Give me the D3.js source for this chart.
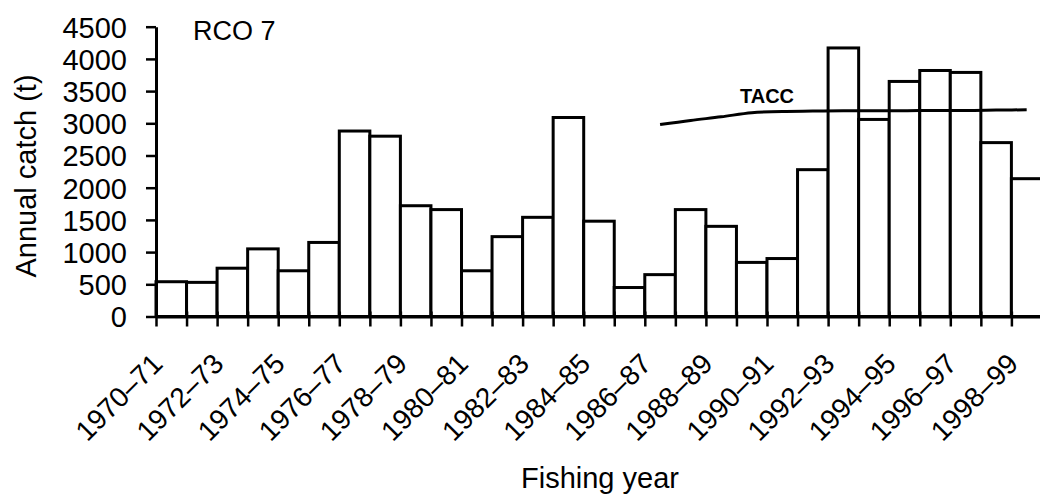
<!DOCTYPE html>
<html>
<head>
<meta charset="utf-8">
<script src="https://cdn.jsdelivr.net/npm/d3@7"></script>
<style>
  html, body { margin: 0; padding: 0; background: #fff; }
  svg { display: block; }
  text { font-family: "Liberation Sans", Arial, Helvetica, sans-serif; fill: #000; }
</style>
</head>
<body>
<svg id="chart" width="1040" height="499"></svg>
<script>
// ---- Data ----
const categories = ["1970–71","1971–72","1972–73","1973–74","1974–75","1975–76","1976–77","1977–78",
  "1978–79","1979–80","1980–81","1981–82","1982–83","1983–84","1984–85","1985–86","1986–87",
  "1987–88","1988–89","1989–90","1990–91","1991–92","1992–93","1993–94","1994–95","1995–96",
  "1996–97","1997–98","1998–99"];
const annualCatch = [540,530,750,1050,710,1150,2880,2800,1720,1660,710,1240,1540,3090,1480,450,
  650,1660,1400,840,900,2280,4170,3060,3650,3820,3790,2700,2140];
const taccYears = ["1986–87","1987–88","1988–89","1989–90","1990–91","1991–92","1992–93",
  "1993–94","1994–95","1995–96","1996–97","1997–98","1998–99"];
const taccValues = [2980,3045,3100,3165,3185,3190,3195,3195,3195,3200,3200,3205,3210];
const yTicks = [0,500,1000,1500,2000,2500,3000,3500,4000,4500];
const xLabels = ["1970–71","1972–73","1974–75","1976–77","1978–79","1980–81","1982–83","1984–85",
  "1986–87","1988–89","1990–91","1992–93","1994–95","1996–97","1998–99"];

// ---- Layout ----
const svg = d3.select("#chart");
const x0 = 156, step = 30.55;
const x = d3.scaleBand().domain(categories).range([x0, x0 + step * categories.length]).padding(0);
const xEdge = d3.scaleLinear().domain([0, categories.length]).range([x0, x0 + step * categories.length]);
const y = d3.scaleLinear().domain([0, 4500]).range([316.5, 26.7]);

// Bars
svg.append("g").selectAll("rect")
  .data(categories.map((c, i) => ({c, v: annualCatch[i]})))
  .join("rect")
  .attr("x", d => x(d.c))
  .attr("y", d => y(d.v))
  .attr("width", x.bandwidth())
  .attr("height", d => y(0) - y(d.v))
  .attr("fill", "#fff")
  .attr("stroke", "#000")
  .attr("stroke-width", 3);

// Y axis
const yAxis = svg.append("g")
  .attr("transform", `translate(${x0},0)`)
  .call(d3.axisLeft(y).tickValues(yTicks).tickFormat(d3.format("d"))
    .tickSize(10).tickSizeOuter(0).tickPadding(19));
yAxis.select(".domain").attr("stroke-width", 3);
yAxis.selectAll(".tick line").attr("stroke-width", 2.5);
yAxis.selectAll(".tick text").attr("font-size", 29).attr("font-family", null).attr("dy", "0.36em");

// X axis (ticks at category boundaries)
const xAxis = svg.append("g")
  .attr("transform", `translate(0,${y(0)})`)
  .call(d3.axisBottom(xEdge).tickValues(d3.range(0, categories.length + 1)).tickFormat("").tickSize(10).tickSizeOuter(0));
xAxis.select(".domain").attr("stroke-width", 3);
xAxis.selectAll(".tick line").attr("stroke-width", 2.5).attr("y1", -5);

// X tick labels (rotated)
svg.append("g").selectAll("text")
  .data(xLabels)
  .join("text")
  .attr("transform", d => `translate(${x(d) + x.bandwidth() / 2 - 7},${y(0) + 49}) rotate(-45)`)
  .attr("text-anchor", "end")
  .attr("font-size", 28)
  .text(d => d);

// TACC line
const line = d3.line()
  .x((d, i) => x(taccYears[i]) + x.bandwidth() / 2)
  .y(d => y(d))
  .curve(d3.curveMonotoneX);
svg.append("path")
  .attr("d", line(taccValues))
  .attr("fill", "none")
  .attr("stroke", "#000")
  .attr("stroke-width", 3);

svg.append("text")
  .attr("x", 740).attr("y", 103)
  .attr("font-size", 20).attr("font-weight", "bold")
  .text("TACC");

// Titles
svg.append("text")
  .attr("x", 193).attr("y", 40)
  .attr("font-size", 27)
  .text("RCO 7");

svg.append("text")
  .attr("transform", "translate(36,176) rotate(-90)")
  .attr("text-anchor", "middle")
  .attr("font-size", 29)
  .text("Annual catch (t)");

svg.append("text")
  .attr("x", 600).attr("y", 488)
  .attr("text-anchor", "middle")
  .attr("font-size", 29)
  .text("Fishing year");
</script>
</body>
</html>
